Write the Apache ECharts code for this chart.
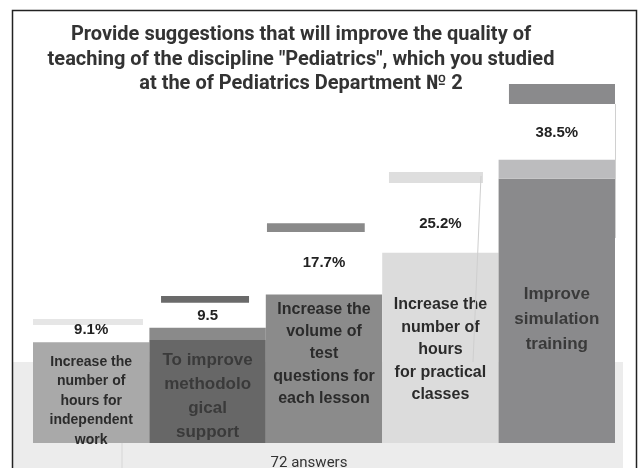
<!DOCTYPE html>
<html>
<head>
<meta charset="utf-8">
<script src="https://cdn.jsdelivr.net/npm/echarts@6/dist/echarts.min.js"></script>
<style>
  html, body { margin: 0; padding: 0; background: #fff; }
  #chart { width: 642px; height: 468px; }
</style>
</head>
<body>
<div id="chart"></div>
<script>
// data
const categories = [
  "Increase the\nnumber of\nhours for\nindependent\nwork",
  "To improve\nmethodolo\ngical\nsupport",
  "Increase the\nvolume of\ntest\nquestions for\neach lesson",
  "Increase the\nnumber of\nhours\nfor practical\nclasses",
  "Improve\nsimulation\ntraining"
];
const values = [9.1, 9.5, 17.7, 25.2, 38.5];
const valueLabels = ["9.1%", "9.5", "17.7%", "25.2%", "38.5%"];
const capValues = [0, 2.2, 0, 0, 3.4]; // lighter strip on top of some bars
const decorLow = [12.2, 16.2, 28.9, 37.7, 51.9];
const decorHigh = [13.3, 17.4, 30.5, 39.7, 55.5];
const axisMin = -9;
const axisMax = 60;

// styles
const barColors = ["#a9a9a9", "#676767", "#8b8b8b", "#dcdcdc", "#8a8a8c"];
const capColors = ["", "#8a8a8a", "", "", "#bcbcbe"];
const decorColors = ["#e6e6e6", "#6a6a6a", "#8a8a8a", "#dedede", "#8a8a8c"];
const decorSpan = [[0, 0.945], [0.1, 0.856], [0.01, 0.85], [0.058, 0.866], [0.089, 1]];
const nameFont = [14, 17, 16, 16, 17];
const nameLineH = [19.5, 24, 22.3, 22.5, 25];
const nameLift = [42, 47, 89, 93, 124];
const nameColor = ["#2b2b2b", "#3a3a3a", "#2b2b2b", "#2b2b2b", "#3a3a3a"];
const valueGap = [12, 12, 32, 29, 27];

let chart = echarts.init(document.getElementById("chart"));

function renderBar(params, api) {
  const i = api.value(0);
  const v = api.value(1);
  const cap = api.value(2);
  const top = api.coord([i, v]);
  const base = api.coord([i, axisMin]);
  const w = api.size([1, 0])[0];
  const x = top[0] - w / 2;
  const children = [{
    type: "rect",
    shape: { x: x, y: top[1], width: w, height: base[1] - top[1] },
    style: { fill: barColors[i] }
  }];
  let capTop = top[1];
  if (cap > 0) {
    const c = api.coord([i, v + cap]);
    capTop = c[1];
    children.push({
      type: "rect",
      shape: { x: x, y: c[1], width: w, height: top[1] - c[1] },
      style: { fill: capColors[i] }
    });
  }
  // value above the bar
  children.push({
    type: "text",
    style: {
      text: valueLabels[i], x: top[0], y: capTop - valueGap[i],
      align: "center", verticalAlign: "middle",
      fontFamily: "Liberation Sans", fontWeight: "bold", fontSize: 15, fill: "#222"
    }
  });
  // category name inside the bar
  children.push({
    type: "text",
    style: {
      text: categories[i], x: top[0], y: base[1] - nameLift[i],
      align: "center", verticalAlign: "middle",
      fontFamily: "Liberation Sans", fontWeight: "bold",
      fontSize: nameFont[i], lineHeight: nameLineH[i], fill: nameColor[i]
    }
  });
  return { type: "group", children: children };
}

function renderDecor(params, api) {
  const i = api.value(0);
  const lo = api.coord([i, api.value(1)]);
  const hi = api.coord([i, api.value(2)]);
  const w = api.size([1, 0])[0];
  const x0 = lo[0] - w / 2;
  return {
    type: "rect",
    shape: {
      x: x0 + w * decorSpan[i][0],
      y: hi[1],
      width: w * (decorSpan[i][1] - decorSpan[i][0]),
      height: lo[1] - hi[1]
    },
    style: { fill: decorColors[i] }
  };
}

chart.setOption({
  animation: false,
  backgroundColor: "#fff",
  title: {
    text: "Provide suggestions that will improve the quality of\nteaching of the discipline \"Pediatrics\", which you studied\nat the of Pediatrics Department № 2",
    left: 296,
    top: 18,
    textAlign: "center",
    textStyle: {
      fontFamily: "Roboto",
      fontWeight: "bold",
      fontSize: 20,
      lineHeight: 24.5,
      color: "#333"
    }
  },
  grid: { left: 33, right: 27, top: 59, bottom: 25 },
  xAxis: {
    type: "category",
    data: categories,
    show: false
  },
  yAxis: {
    type: "value",
    min: axisMin,
    max: axisMax,
    show: false
  },
  graphic: [
    {
      // light grey panel behind the lower part
      type: "rect", z: -10, silent: true,
      shape: { x: 13, y: 362, width: 610, height: 110 },
      style: { fill: "#ececec" }
    },
    {
      type: "line", z: -9, silent: true,
      shape: { x1: 122, y1: 443, x2: 122, y2: 468 },
      style: { stroke: "#d6d6d6", lineWidth: 1 }
    },
    {
      type: "line", z: 10, silent: true,
      shape: { x1: 615.5, y1: 104, x2: 615.5, y2: 238 },
      style: { stroke: "#d0d0d0", lineWidth: 1 }
    },
    {
      type: "line", z: 10, silent: true,
      shape: { x1: 481, y1: 176, x2: 473, y2: 362 },
      style: { stroke: "#cfcfcf", lineWidth: 1 }
    },
    {
      type: "text", z: 10, silent: true,
      style: {
        text: "72 answers", x: 309, y: 463,
        align: "center", verticalAlign: "middle",
        fontFamily: "Roboto", fontSize: 15, fill: "#333"
      }
    },
    {
      type: "rect", z: 100, silent: true,
      shape: { x: 12.5, y: 10.5, width: 624, height: 470 },
      style: { fill: "none", stroke: "#222", lineWidth: 1.5 }
    }
  ],
  series: [
    {
      name: "decor",
      type: "custom",
      renderItem: renderDecor,
      encode: { x: 0, y: [1, 2] },
      data: decorLow.map((lo, i) => [i, lo, decorHigh[i]]),
      silent: true
    },
    {
      name: "answers",
      type: "custom",
      renderItem: renderBar,
      encode: { x: 0, y: 1 },
      data: values.map((v, i) => [i, v, capValues[i]])
    }
  ]
});

window.addEventListener("resize", () => {
  chart.resize();
});
</script>
</body>
</html>
